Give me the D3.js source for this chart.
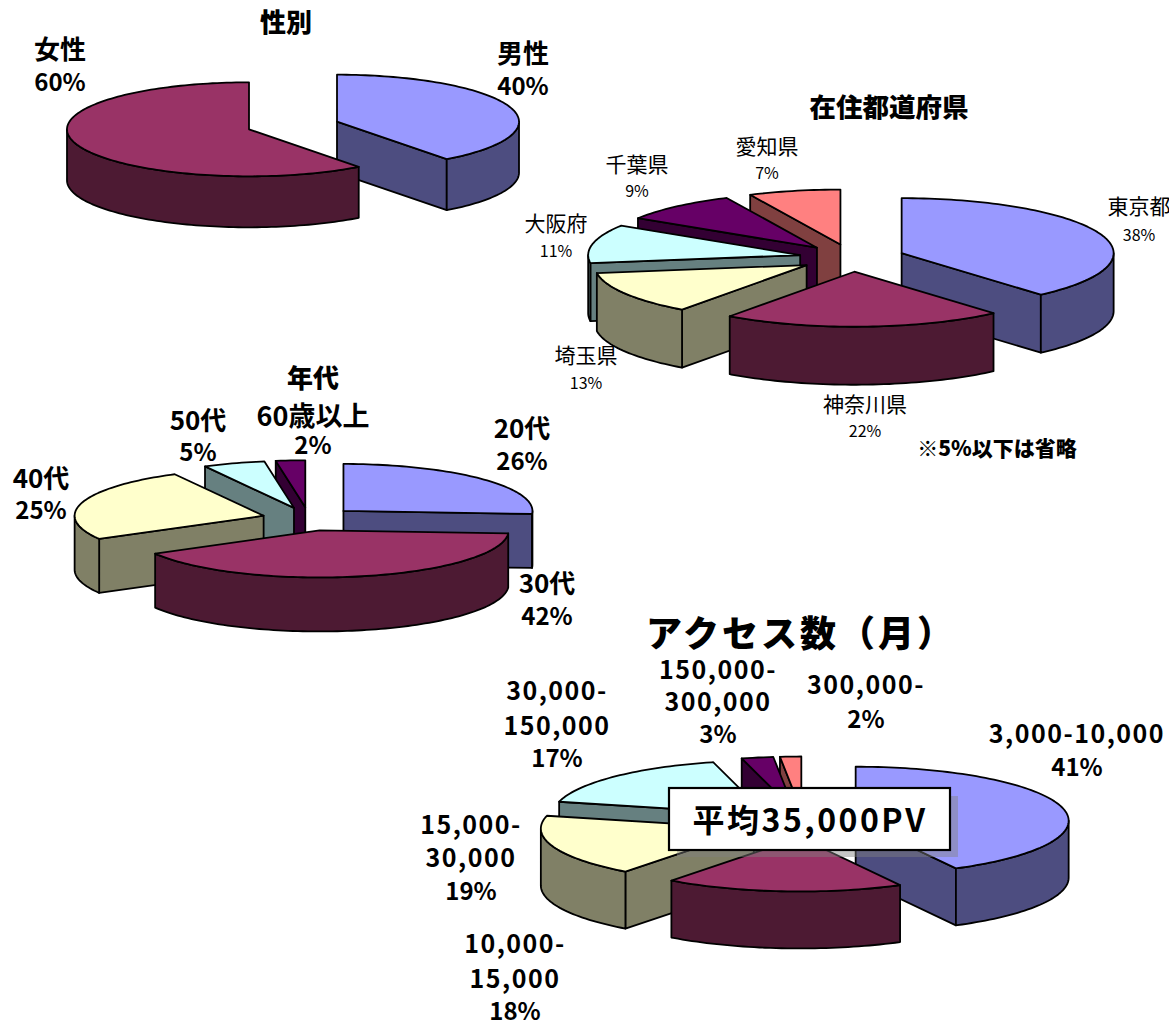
<!DOCTYPE html>
<html lang="ja">
<head>
  <meta charset="UTF-8">
  <title>アンケート結果</title>
  <style type="text/css">
    body{ margin:0; background:#fff; }
    svg{ display:block; }
    text{ font-family:"Noto Sans CJK JP","Liberation Sans",sans-serif; fill:#000; text-anchor:middle; dominant-baseline:central; transform:translateY(-1.5px); }
  </style>
  <script src="https://d3js.org/d3.v7.min.js"></script>
</head>
<body>
  <svg></svg>
  <script>
    // data
    // *Pct = the printed percentages, *Wedges = wedge sizes as actually drawn (they differ a little)
    const genderCats = ["男性", "女性"];
    const genderPct = [40, 60];
    const genderWedges = [39.7, 60.3];

    const prefCats = ["東京都", "神奈川県", "埼玉県", "大阪府", "千葉県", "愛知県"];
    const prefPct = [38, 22, 13, 11, 9, 7];
    const prefWedges = [38.6, 21.4, 12.7, 11.3, 9, 7];

    const ageCats = ["20代", "30代", "40代", "50代", "60歳以上"];
    const agePct = [26, 42, 25, 5, 2];
    const ageWedges = [26, 40.8, 25.4, 5.3, 2.5];

    const accessCats = ["3,000-10,000", "10,000-|15,000", "15,000-|30,000", "30,000-|150,000", "150,000-|300,000", "300,000-"];
    const accessPct = [41, 18, 19, 17, 3, 2];
    const accessWedges = [42.2, 18.1, 18.5, 17.2, 2.4, 1.6];

    const topColors = ["#9999ff", "#993366", "#ffffcc", "#ccffff", "#660066", "#ff8080"];
    const sideColors = ["#4d4d80", "#4d1a33", "#808066", "#668080", "#330033", "#804040"];
    const seriesOrder = [0, 1, 2, 3, 4, 5];

    const svg = d3.select("svg").attr("width", 1169).attr("height", 1025);

    const topColor = d3.scaleOrdinal(seriesOrder, topColors);
    const sideColor = d3.scaleOrdinal(seriesOrder, sideColors);
    const line = d3.line();
    const step = Math.PI / 120;

    function drawPie(values, o) {
      const sx = d3.scaleLinear([-1, 1], [o.cx - o.rx, o.cx + o.rx]);
      const sy = d3.scaleLinear([-1, 1], [o.cy - o.ry, o.cy + o.ry]);

      const slices = d3.pie().sort(null)(values).map((d, i) => {
        const mid = (d.startAngle + d.endAngle) / 2;
        return { a0: d.startAngle, a1: d.endAngle, i: i,
                 ox: o.explode * Math.sin(mid), oy: -o.explode * Math.cos(mid) };
      });
      // back slices first
      slices.sort((a, b) => a.oy - b.oy);

      const pt = (d, a, r, dz) => [sx(d.ox + r * Math.sin(a)), sy(d.oy - r * Math.cos(a)) + (dz || 0)];
      const arcAngles = (a, b) => d3.range(a, b, step).concat([b]);

      const g = svg.append("g");
      const sl = g.selectAll("g").data(slices).join("g");

      sl.each(function (d) {
        const el = d3.select(this);
        // cut faces
        const faces = [];
        if (Math.sin(d.a0) < -1e-6) faces.push(d.a0);
        if (Math.sin(d.a1) > 1e-6) faces.push(d.a1);
        faces.forEach(a => {
          el.append("path")
            .attr("d", line([pt(d, 0, 0), pt(d, a, 1), pt(d, a, 1, o.depth), pt(d, 0, 0, o.depth)]) + "Z")
            .attr("fill", sideColor(d.i));
        });
        // outer wall, only the half that faces the viewer
        const w0 = Math.max(d.a0, Math.PI / 2), w1 = Math.min(d.a1, Math.PI * 1.5);
        if (w1 > w0) {
          const angs = arcAngles(w0, w1);
          const pts = angs.map(a => pt(d, a, 1)).concat(angs.slice().reverse().map(a => pt(d, a, 1, o.depth)));
          el.append("path").attr("d", line(pts) + "Z").attr("fill", sideColor(d.i));
        }
        // top
        const pts = [pt(d, 0, 0)].concat(arcAngles(d.a0, d.a1).map(a => pt(d, a, 1)));
        el.append("path").attr("d", line(pts) + "Z").attr("fill", topColor(d.i));
      });
      sl.selectAll("path").attr("stroke", "#000").attr("stroke-width", 1.8).attr("stroke-linejoin", "round");
    }

    // lines of one label; opts.pctSize and opts.spacing treat the percent line apart from the rest
    function label(lines, x, ys, size, weight, opts) {
      opts = opts || {};
      lines.forEach((t, i) => {
        const isPct = t.endsWith("%") && i === lines.length - 1 && lines.length > 1;
        svg.append("text")
          .attr("x", x).attr("y", ys[i])
          .attr("font-size", isPct && opts.pctSize ? opts.pctSize : size)
          .attr("font-weight", weight)
          .attr("letter-spacing", isPct ? 0 : (opts.spacing || 0))
          .text(t);
      });
    }

    // gender
    drawPie(genderWedges, { cx: 293, cy: 125.5, rx: 182, ry: 47, depth: 51, explode: 0.255 });
    label(["性別"], 286, [22], 26, 900);
    label([genderCats[1], genderPct[1] + "%"], 60, [49, 82], 26, 700, { pctSize: 24 });
    label([genderCats[0], genderPct[0] + "%"], 523, [53, 86], 26, 700, { pctSize: 24 });

    // prefecture
    drawPie(prefWedges, { cx: 852, cy: 258, rx: 212, ry: 55, depth: 58, explode: 0.25 });
    label(["在住都道府県"], 889, [107], 26.5, 900);
    const prefLabelX = [1139, 865, 586, 556, 637, 767];
    const prefLabelY = [[206, 235], [404, 431], [355, 383], [223, 251], [164, 191], [146, 173]];
    prefCats.forEach((c, i) => label([c, prefPct[i] + "%"], prefLabelX[i], prefLabelY[i], 21, 400, { pctSize: 16 }));
    label(["※5%以下は省略"], 997, [448], 21, 900);

    // age
    drawPie(ageWedges, { cx: 309, cy: 519, rx: 189, ry: 47, depth: 54, explode: 0.25 });
    label(["年代"], 313, [378], 26, 900);
    const ageLabelX = [522, 547, 41, 198, 313];
    const ageLabelY = [[428, 461], [583, 616], [478, 510], [420, 452], [416, 445]];
    ageCats.forEach((c, i) => label([c, agePct[i] + "%"], ageLabelX[i], ageLabelY[i], i === 4 ? 27 : 26, 700, { pctSize: 24 }));

    // access
    drawPie(accessWedges, { cx: 804, cy: 824, rx: 213, ry: 54, depth: 57, explode: 0.25 });
    svg.append("text").attr("x", 801).attr("y", 632).attr("font-size", 36).attr("font-weight", 900)
      .attr("letter-spacing", 3).text("アクセス数（月）");
    const accessLabelX = [1077, 515, 471, 557, 718, 866];
    const accessLabelY = [[733, 767], [943, 978, 1011], [824, 857, 891], [690, 725, 758], [669, 701, 734], [684, 719]];
    accessCats.forEach((c, i) => label(c.split("|").concat(accessPct[i] + "%"), accessLabelX[i], accessLabelY[i], 25, 700, { spacing: 1.5, pctSize: 24 }));

    // callout
    svg.append("rect").attr("x", 677).attr("y", 796).attr("width", 281).attr("height", 61).attr("fill", "#808080").attr("fill-opacity", 0.45);
    svg.append("rect").attr("x", 669).attr("y", 788).attr("width", 281).attr("height", 62).attr("fill", "#fff").attr("stroke", "#000").attr("stroke-width", 2.2);
    svg.append("text").attr("x", 810).attr("y", 819).attr("font-size", 32).attr("font-weight", 700)
      .attr("letter-spacing", 2.5).text("平均35,000PV");
  </script>
</body>
</html>
